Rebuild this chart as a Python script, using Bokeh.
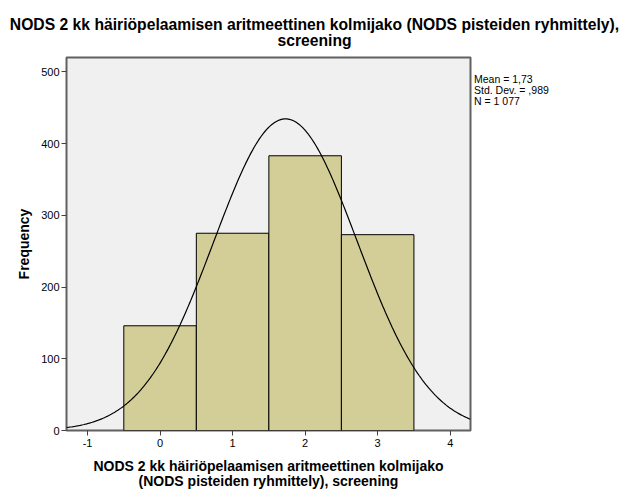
import numpy as np
from bokeh.plotting import figure
from bokeh.models import FixedTicker, Range1d, Div
from bokeh.layouts import row, column
from bokeh.embed import file_html
from bokeh.resources import INLINE

# Data
bin_centers = [0, 1, 2, 3]
frequencies = [146, 275, 383, 273]
mean_val = 1.73
sd_val = 0.989
n_val = 1077
x_ticks = [-1, 0, 1, 2, 3, 4]
y_ticks = [0, 100, 200, 300, 400, 500]
stats_lines = ["Mean = 1,73", "Std. Dev. = ,989", "N = 1 077"]
title_lines = ["NODS 2 kk häiriöpelaamisen aritmeettinen kolmijako (NODS pisteiden ryhmittely),",
               "screening"]

FONT = "Liberation Sans"
x0, x1 = -1.29, 4.28
y0, y1 = 0, 520
TITLE_H = 50

p = figure(width=474, height=504 - TITLE_H, output_backend="svg", toolbar_location=None,
           x_range=Range1d(x0, x1), y_range=Range1d(y0, y1),
           min_border_left=66, min_border_right=4, min_border_top=57 - TITLE_H,
           min_border_bottom=74)
p.background_fill_color = "#F0F0F0"
p.border_fill_color = "white"
p.grid.visible = False
p.outline_line_color = "#606060"
p.outline_line_width = 2

p.quad(left=[c - 0.5 for c in bin_centers], right=[c + 0.5 for c in bin_centers],
       bottom=0, top=frequencies, fill_color="#D3CE98", line_color="black", line_width=1)

xs = np.linspace(x0, x1, 300)
ys = n_val * 1.0 / (sd_val * np.sqrt(2 * np.pi)) * np.exp(-0.5 * ((xs - mean_val) / sd_val) ** 2)
p.line(xs, ys, line_color="black", line_width=1.2)

for ax in (p.xaxis, p.yaxis):
    ax.axis_line_color = None
    ax.major_tick_line_color = "#404040"
    ax.major_tick_out = 5
    ax.major_tick_in = 0
    ax.minor_tick_line_color = None
    ax.major_label_text_font = FONT
    ax.major_label_text_font_size = "11px"
    ax.major_label_text_color = "black"
    ax.axis_label_text_font = FONT
    ax.axis_label_text_font_style = "bold"
    ax.axis_label_text_font_size = "14px"
    ax.axis_label_text_color = "black"

p.xaxis.ticker = FixedTicker(ticks=x_ticks)
p.yaxis.ticker = FixedTicker(ticks=y_ticks)
p.xaxis.major_label_overrides = {t: str(t) for t in x_ticks}
p.xaxis.major_label_standoff = 3
p.yaxis.major_label_standoff = 2
p.xaxis.axis_label = "NODS 2 kk häiriöpelaamisen aritmeettinen kolmijako\n(NODS pisteiden ryhmittely), screening"
p.xaxis.axis_label_standoff = 8
p.xaxis.axis_label_text_line_height = 0.95
p.yaxis.axis_label = "Frequency"
p.yaxis.axis_label_standoff = 6

title = Div(text="<br>".join(title_lines), width=629, height=TITLE_H, margin=(0, 0, 0, 0),
            styles={"font-family": FONT, "font-size": "15.7px", "font-weight": "bold",
                    "line-height": "16px", "color": "black", "text-align": "center",
                    "width": "629px", "padding-top": "17px", "box-sizing": "border-box"})

stats = Div(text="<br>".join(stats_lines), width=155, height=60,
            margin=(24, 0, 0, 0),
            styles={"font-family": FONT, "font-size": "10.5px", "line-height": "11px",
                    "color": "black"})

layout = column(title, row(p, stats, spacing=0), spacing=0)
open("out.html", "w").write(file_html(layout, INLINE))
